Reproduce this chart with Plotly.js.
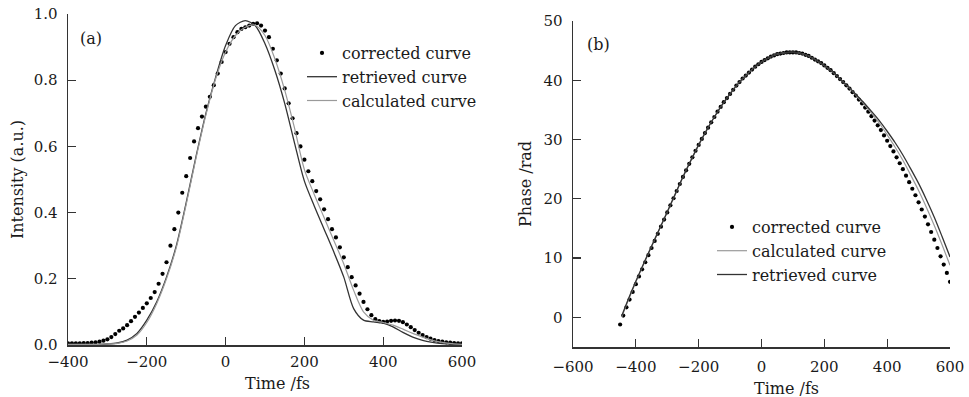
<!DOCTYPE html>
<html>
<head>
<meta charset="utf-8">
<script src="https://cdn.plot.ly/plotly-3.0.1.min.js"></script>
<style>
html,body{margin:0;padding:0;background:#fff;}
#chart{width:969px;height:397px;}
</style>
</head>
<body>
<div id="chart"></div>
<script>
// ---------- (a) Intensity ----------
const timeDotsA = [];
for (let t = -400; t <= 600; t += 10) timeDotsA.push(t);
const correctedA = [
  0.005,0.005,0.005,0.005,0.006,0.006,0.007,0.008,0.010,0.013,
  0.017,0.024,0.033,0.043,0.050,0.060,0.072,0.085,0.098,0.112,
  0.126,0.142,0.160,0.185,0.215,0.250,0.300,0.350,0.400,0.460,
  0.510,0.565,0.615,0.655,0.690,0.720,0.750,0.785,0.820,0.855,
  0.885,0.910,0.930,0.945,0.955,0.960,0.965,0.970,0.972,0.965,
  0.950,0.930,0.895,0.860,0.820,0.775,0.730,0.685,0.640,0.600,
  0.560,0.525,0.495,0.465,0.440,0.410,0.380,0.350,0.325,0.295,
  0.265,0.235,0.205,0.180,0.155,0.130,0.108,0.090,0.078,0.072,
  0.070,0.071,0.073,0.074,0.073,0.069,0.062,0.054,0.045,0.037,
  0.030,0.024,0.019,0.015,0.012,0.010,0.008,0.007,0.006,0.005,
  0.005
];
const timeLinesA = [];
for (let t = -400; t <= 600; t += 25) timeLinesA.push(t);
const retrievedA = [
  0.002,0.002,0.002,0.002,0.003,0.006,0.015,0.035,0.075,0.130,
  0.205,0.300,0.430,0.570,0.700,0.810,0.905,0.965,0.980,0.965,
  0.910,0.830,0.730,0.610,0.495,0.420,0.350,0.280,0.205,0.110,
  0.075,0.070,0.066,0.055,0.038,0.024,0.014,0.008,0.004,0.002,
  0.001
];
const calculatedA = [
  0.002,0.002,0.002,0.002,0.003,0.005,0.012,0.030,0.068,0.125,
  0.200,0.295,0.425,0.565,0.695,0.805,0.885,0.935,0.960,0.966,
  0.935,0.865,0.770,0.655,0.530,0.455,0.385,0.315,0.245,0.165,
  0.100,0.075,0.068,0.060,0.048,0.035,0.024,0.014,0.008,0.004,
  0.002
];

// ---------- (b) Phase ----------
const timeDotsB = [];
for (let t = -450; t <= 600; t += 10) timeDotsB.push(t);
const correctedB = [
  -1.2,0.3,1.7,3.0,4.3,5.6,6.9,8.1,9.3,10.5,
  11.7,12.9,14.1,15.3,16.5,17.7,18.9,20.1,21.3,22.5,
  23.7,24.8,25.9,27.0,28.1,29.1,30.1,31.1,32.0,32.9,
  33.8,34.7,35.5,36.3,37.0,37.7,38.4,39.1,39.7,40.3,
  40.8,41.3,41.8,42.3,42.7,43.1,43.4,43.7,44.0,44.2,
  44.4,44.5,44.6,44.7,44.7,44.7,44.7,44.6,44.5,44.3,
  44.1,43.8,43.5,43.2,42.9,42.5,42.1,41.7,41.2,40.7,
  40.2,39.7,39.15,38.6,38.0,37.4,36.75,36.1,35.4,34.7,
  33.95,33.2,32.4,31.6,30.7,29.8,28.9,28.0,27.0,26.0,
  25.0,23.9,22.8,21.7,20.6,19.4,18.2,17.0,15.7,14.4,
  13.1,11.7,10.3,8.9,7.5,6.0
];
const timeLinesB = [-445,-425,-400,-375,-350,-325,-300,-275,-250,-225,-200,-175,-150,-125,-100,-75,-50,-25,0,25,50,75,100,125,150,175,200,225,250,275,300,325,350,375,400,425,450,475,500,525,550,575,600];
const retrievedB = [
  0.25,2.95,6.1,9.1,12.0,14.9,17.8,20.75,23.7,26.45,
  29.1,31.55,33.8,35.9,37.7,39.4,40.8,42.05,43.1,43.85,
  44.4,44.65,44.7,44.55,44.1,43.35,42.5,41.45,40.2,39.0,
  37.65,36.25,34.75,33.2,31.4,29.5,27.4,25.05,22.6,19.85,
  16.9,13.6,10.2
];
const calculatedB = [
  0.05,2.75,5.95,9.0,11.95,14.85,17.75,20.7,23.7,26.45,
  29.1,31.55,33.8,35.9,37.7,39.4,40.8,42.05,43.1,43.85,
  44.4,44.65,44.7,44.55,44.1,43.35,42.5,41.45,40.2,38.95,
  37.55,36.05,34.45,32.75,30.8,28.75,26.5,24.0,21.4,18.55,
  15.5,12.2,8.8
];

const seriesNames = ['corrected curve','retrieved curve','calculated curve'];
const FONT = 'DejaVu Serif, Liberation Serif, serif';
const DOT = '#000000', RET = '#333333', CAL = '#9a9a9a';

const traces = [
  {x: timeDotsA, y: correctedA, name: seriesNames[0], mode: 'markers', type: 'scatter',
   marker: {color: DOT, size: 4.2}, xaxis: 'x', yaxis: 'y', legend: 'legend'},
  {x: timeLinesA, y: retrievedA, name: seriesNames[1], mode: 'lines', type: 'scatter',
   line: {color: RET, width: 1.3, shape: 'spline', smoothing: 0.8}, xaxis: 'x', yaxis: 'y', legend: 'legend'},
  {x: timeLinesA, y: calculatedA, name: seriesNames[2], mode: 'lines', type: 'scatter',
   line: {color: CAL, width: 1.2, shape: 'spline', smoothing: 0.8}, xaxis: 'x', yaxis: 'y', legend: 'legend'},
  {x: timeDotsB, y: correctedB, name: seriesNames[0], mode: 'markers', type: 'scatter',
   marker: {color: DOT, size: 4.2}, xaxis: 'x2', yaxis: 'y2', legend: 'legend2'},
  {x: timeLinesB, y: calculatedB, name: seriesNames[2], mode: 'lines', type: 'scatter',
   line: {color: CAL, width: 1.2, shape: 'spline', smoothing: 0.8}, xaxis: 'x2', yaxis: 'y2', legend: 'legend2'},
  {x: timeLinesB, y: retrievedB, name: seriesNames[1], mode: 'lines', type: 'scatter',
   line: {color: RET, width: 1.3, shape: 'spline', smoothing: 0.8}, xaxis: 'x2', yaxis: 'y2', legend: 'legend2'}
];

const W = 969, H = 397;
const axCommon = {
  showgrid: false, zeroline: false, showline: true, linecolor: '#333', linewidth: 1.5,
  ticks: 'inside', ticklen: 8, tickwidth: 1.3, tickcolor: '#333',
  tickfont: {family: FONT, size: 15, color: '#1a1a1a'}, mirror: false
};

const layout = {
  width: W, height: H,
  margin: {l: 0, r: 0, t: 0, b: 0},
  paper_bgcolor: '#fff', plot_bgcolor: '#fff',
  font: {family: FONT, size: 16, color: '#1a1a1a'},
  xaxis: Object.assign({}, axCommon, {
    domain: [68/W, 462/W], range: [-400, 600], tickvals: [-400,-200,0,200,400,600],
    anchor: 'y', ticklabelstandoff: 2
  }),
  yaxis: Object.assign({}, axCommon, {
    domain: [(H-345)/H, (H-14)/H], range: [0, 1], tickvals: [0,0.2,0.4,0.6,0.8,1.0],
    tickformat: '.1f', anchor: 'x', ticklabelstandoff: 6,
    title: {text: 'Intensity (a.u.)', font: {family: FONT, size: 16, color: '#1a1a1a'}, standoff: 6}
  }),
  xaxis2: Object.assign({}, axCommon, {
    domain: [573/W, 950/W], range: [-600, 600], tickvals: [-600,-400,-200,0,200,400,600],
    anchor: 'y2', ticklabelstandoff: 5
  }),
  yaxis2: Object.assign({}, axCommon, {
    domain: [(H-347)/H, (H-21)/H], range: [-5, 50], tickvals: [0,10,20,30,40,50],
    anchor: 'x2', ticklabelstandoff: 6,
    title: {text: 'Phase /rad', font: {family: FONT, size: 16, color: '#1a1a1a'}, standoff: 8}
  }),
  legend: {
    x: 302/W, y: (H-36)/H, xanchor: 'left', yanchor: 'top', xref: 'paper', yref: 'paper',
    bgcolor: 'rgba(0,0,0,0)', borderwidth: 0, font: {family: FONT, size: 16, color: '#1a1a1a'},
    tracegroupgap: 0, itemwidth: 30
  },
  legend2: {
    x: 712/W, y: (H-210)/H, xanchor: 'left', yanchor: 'top', xref: 'paper', yref: 'paper',
    bgcolor: 'rgba(0,0,0,0)', borderwidth: 0, font: {family: FONT, size: 16, color: '#1a1a1a'},
    tracegroupgap: 0, itemwidth: 30
  },
  showlegend: true,
  annotations: [
    {text: '(a)', xref: 'paper', yref: 'paper', x: 78/W, y: (H-38)/H, xanchor: 'left', yanchor: 'middle',
     showarrow: false, font: {family: FONT, size: 16, color: '#1a1a1a'}},
    {text: '(b)', xref: 'paper', yref: 'paper', x: 585/W, y: (H-44)/H, xanchor: 'left', yanchor: 'middle',
     showarrow: false, font: {family: FONT, size: 16, color: '#1a1a1a'}},
    {text: 'Time /fs', xref: 'paper', yref: 'paper', x: 277/W, y: (H-383)/H, xanchor: 'center', yanchor: 'middle',
     showarrow: false, font: {family: FONT, size: 16, color: '#1a1a1a'}},
    {text: 'Time /fs', xref: 'paper', yref: 'paper', x: 786/W, y: (H-388)/H, xanchor: 'center', yanchor: 'middle',
     showarrow: false, font: {family: FONT, size: 16, color: '#1a1a1a'}}
  ]
};

Plotly.newPlot('chart', traces, layout, {displayModeBar: false, staticPlot: true});
</script>
</body>
</html>
